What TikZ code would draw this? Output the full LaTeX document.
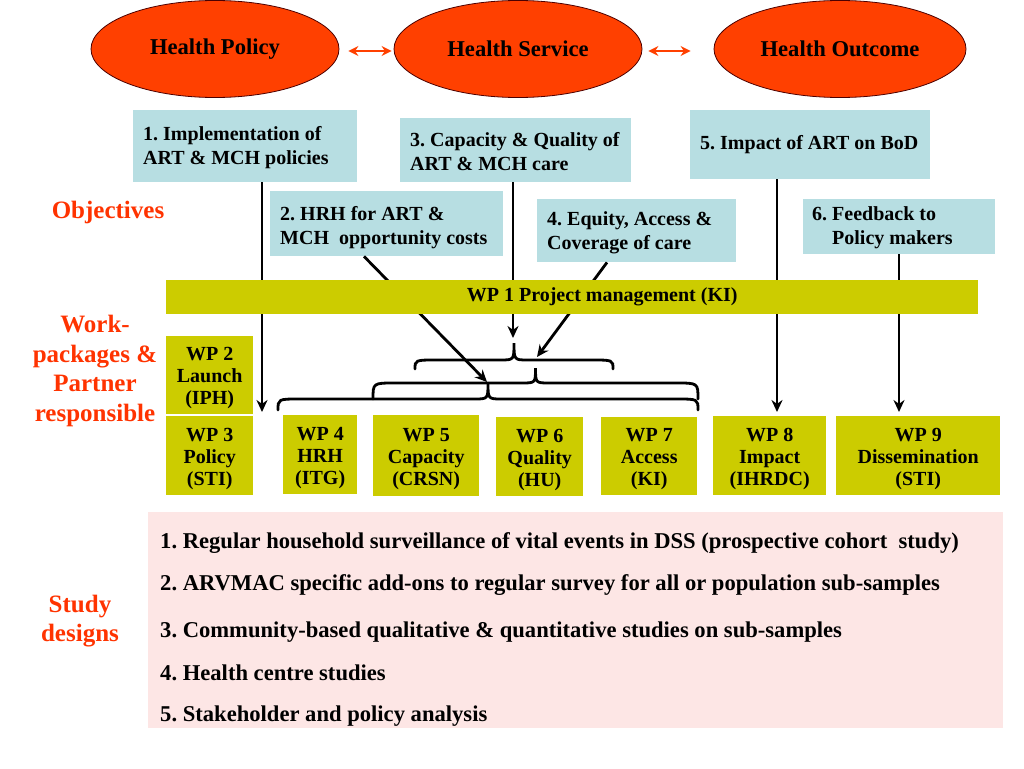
\documentclass[tikz,border=0pt]{standalone}
\usepackage{fontspec}
\setmainfont{Liberation Serif}
\usetikzlibrary{arrows.meta,shapes.geometric,calc}
\definecolor{ellred}{RGB}{255,64,0}
\definecolor{labred}{RGB}{255,51,0}
\definecolor{objblue}{RGB}{183,222,226}
\definecolor{wpyel}{RGB}{204,204,0}
\definecolor{sdpink}{RGB}{253,230,229}
\tikzset{
 ell/.style={ellipse, fill=ellred, draw=black!70!red, line width=0.8pt, minimum width=248pt, minimum height=97pt, inner sep=0pt, font=\fontsize{22.6}{26}\selectfont\bfseries},
 objbox/.style={fill=objblue, anchor=north west, inner sep=0pt},
 objtext/.style={anchor=west, inner sep=0pt, align=left, font=\fontsize{20}{24}\selectfont\bfseries},
 wp/.style={fill=wpyel, anchor=north west, inner sep=0pt},
 wptext/.style={inner sep=0pt, align=center, font=\fontsize{20}{22}\selectfont\bfseries},
 lab/.style={text=labred, align=center, font=\fontsize{25}{29.5}\selectfont\bfseries},
 sdtext/.style={anchor=base west, inner sep=0pt, font=\fontsize{22.6}{26}\selectfont\bfseries},
 arr/.style={line width=2.8pt, -{Stealth[length=12pt,width=11pt]}},
 brc/.style={line width=2.8pt, line cap=round},
 dbl/.style={line width=2.8pt, draw=ellred, {Stealth[length=10pt,width=10pt]}-{Stealth[length=10pt,width=10pt]}},
}
\newcommand\wpbrace[5]{\draw[brc] (#1,#3) .. controls (#1,#4) .. ({#1+22},#4) -- ({(#1+#2)/2-14},#4) .. controls ({(#1+#2)/2},#4) .. ({(#1+#2)/2},#5) .. controls ({(#1+#2)/2},#4) .. ({(#1+#2)/2+14},#4) -- ({#2-22},#4) .. controls (#2,#4) .. (#2,#3);}
\begin{document}
\frenchspacing
\begin{tikzpicture}[x=1pt,y=-1pt]
\useasboundingbox (0,0) rectangle (1024,768);
% ellipses
\node[ell] (e1) at (215,49) {Health Policy};
\node[ell] (e2) at (518,49) {Health Service};
\node[ell, minimum width=252pt] (e3) at (840,49) {Health Outcome};
\draw[dbl] ([xshift=9pt,yshift=-2pt]e1.east) -- ([xshift=-2pt,yshift=-2pt]e2.west);
\draw[dbl] ([xshift=6pt,yshift=-2pt]e2.east) -- ([xshift=-23pt,yshift=-2pt]e3.west);
% objectives
\node[objbox, minimum width=224pt, minimum height=72pt] (o1) at (133,110) {};
\node[objtext] (o1t) at ([xshift=10pt,yshift=-1pt]o1.west) {1. Implementation of\\ART \& MCH policies};
\node[objbox, minimum width=231pt, minimum height=64pt] (o3) at (400,118) {};
\node[objtext] (o3t) at ([xshift=10pt,yshift=-1pt]o3.west) {3. Capacity \& Quality of\\ART \& MCH care};
\node[objbox, minimum width=240pt, minimum height=69pt] (o5) at (690,110) {};
\node[objtext] (o5t) at ([xshift=10pt]o5.west) {5. Impact of ART on BoD};
\node[objbox, minimum width=233pt, minimum height=65pt] (o2) at (270,191) {};
\node[objtext] (o2t) at ([xshift=10pt,yshift=-4pt]o2.west) {2. HRH for ART \&\\MCH\ \ opportunity costs};
\node[objbox, minimum width=199pt, minimum height=63pt] (o4) at (537,199) {};
\node[objtext] (o4t) at ([xshift=10pt,yshift=-2pt]o4.west) {4. Equity, Access \&\\Coverage of care};
\node[objbox, minimum width=192pt, minimum height=55pt] (o6) at (803,199) {};
\node[objtext] (o6t) at ([xshift=9pt,yshift=-1pt]o6.west) {6. Feedback to\\\hspace*{20pt}Policy makers};
% labels
\node[lab] (lobj) at (108,212) {Objectives};
\node[lab] (lwp) at (95,371) {Work-\\packages \&\\Partner\\responsible};
\node[lab] (lsd) at (80,621) {Study\\designs};
% connectors
\coordinate (t1) at (262,412);
\draw[arr] (o1.south -| t1) -- (t1);
\coordinate (bA) at (513,338);
\draw[arr] (o3.south -| bA) -- (bA);
\coordinate (s2) at (364,256);
\coordinate (bC) at (487,382);
\draw[arr] (o2.south -| s2) -- (bC);
\coordinate (s4) at (607,262);
\coordinate (bB) at (537,357);
\draw[arr] (o4.south -| s4) -- (bB);
\coordinate (t8) at (777,412);
\draw[arr] (o5.south -| t8) -- (t8);
\coordinate (t9) at (899,412);
\draw[arr] (o6.south -| t9) -- (t9);
% work packages
\node[wp, minimum width=812pt, minimum height=34pt] (wp1) at (166,280) {};
\node[wptext] (wp1t) at ([xshift=30pt]wp1.center) {WP 1 Project management (KI)};
\node[wp, minimum width=87pt, minimum height=78pt] (wp2) at (166,336) {};
\node[wptext] (wp2t) at ([yshift=-3pt]wp2.center) {WP 2\\Launch\\(IPH)};
\node[wp, minimum width=87pt, minimum height=79pt] (wp3) at (166,416) {};
\node[wptext] (wp3t) at ([yshift=-3pt]wp3.center) {WP 3\\Policy\\(STI)};
\node[wp, minimum width=74pt, minimum height=79pt] (wp4) at (283,415) {};
\node[wptext] (wp4t) at ([yshift=-3pt]wp4.center) {WP 4\\HRH\\(ITG)};
\node[wp, minimum width=106pt, minimum height=81pt] (wp5) at (373,415) {};
\node[wptext] (wp5t) at ([yshift=-3pt]wp5.center) {WP 5\\Capacity\\(CRSN)};
\node[wp, minimum width=87pt, minimum height=79pt] (wp6) at (496,417) {};
\node[wptext] (wp6t) at ([yshift=-3pt]wp6.center) {WP 6\\Quality\\(HU)};
\node[wp, minimum width=96pt, minimum height=78pt] (wp7) at (601,417) {};
\node[wptext] (wp7t) at ([yshift=-3pt]wp7.center) {WP 7\\Access\\(KI)};
\node[wp, minimum width=113pt, minimum height=79pt] (wp8) at (713,416) {};
\node[wptext] (wp8t) at ([yshift=-3pt]wp8.center) {WP 8\\Impact\\(IHRDC)};
\node[wp, minimum width=164pt, minimum height=79pt] (wp9) at (836,416) {};
\node[wptext] (wp9t) at ([yshift=-3pt]wp9.center) {WP 9\\Dissemination\\(STI)};
% braces
\wpbrace{415}{613}{369}{360}{343}
\wpbrace{373}{698}{399}{383}{368}
\wpbrace{278}{698}{410}{399}{383}
% study designs
\node[fill=sdpink, anchor=north west, minimum width=855pt, minimum height=216pt, inner sep=0pt] (sd) at (148,512) {};
\node[sdtext] (sd1) at (160,548) {1. Regular household surveillance of vital events in DSS (prospective cohort\ \ study)};
\node[sdtext] (sd2) at (160,590) {2. ARVMAC specific add-ons to regular survey for all or population sub-samples};
\node[sdtext] (sd3) at (160,637) {3. Community-based qualitative \& quantitative studies on sub-samples};
\node[sdtext] (sd4) at (160,680) {4. Health centre studies};
\node[sdtext] (sd5) at (160,721) {5. Stakeholder and policy analysis};
\end{tikzpicture}
\end{document}
